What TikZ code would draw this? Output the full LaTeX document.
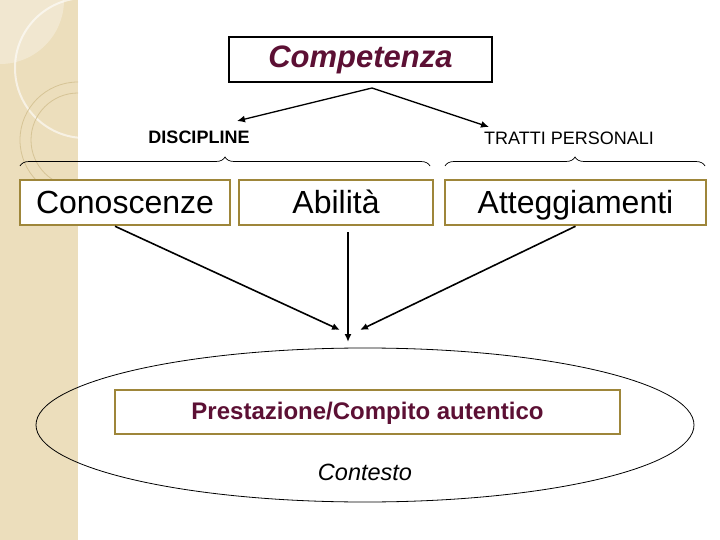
\documentclass[tikz,border=0pt]{standalone}
\usepackage{fontspec}
\setmainfont{Liberation Sans}
\usetikzlibrary{shapes.geometric,decorations.pathreplacing,arrows.meta}
\definecolor{strip}{RGB}{236,222,188}
\definecolor{stripline}{RGB}{214,196,150}
\definecolor{gold}{RGB}{158,134,58}
\definecolor{wine}{RGB}{92,16,52}

\begin{document}
\begin{tikzpicture}[
        x=1pt, y=-1pt,
        box/.style={draw=gold, line width=2.5pt, fill=white, inner sep=0pt,
                    minimum height=45pt, text height=26pt, text depth=4pt,
                    font=\fontsize{32}{32}\selectfont},
        arrow/.style={-{Latex[length=8pt,width=7pt]}, line width=1.6pt},
        brace/.style={decorate, decoration={brace, amplitude=9pt}, line width=0.7pt},
        label/.style={font=\fontsize{18}{18}\selectfont}
    ]
    \useasboundingbox (0,0) rectangle (720,540);

    % left background strip
    \fill[strip] (0,0) rectangle (78,540);
    \begin{scope}
        \clip (0,0) rectangle (78,540);
        \fill[white, opacity=0.3] (0,0) circle (64);
        \draw[white, opacity=0.6, line width=2pt] (85,68) circle (70);
        \draw[stripline, line width=0.8pt] (78,140) circle (58);
        \draw[stripline, line width=0.8pt] (78,140) circle (47);
    \end{scope}

    % top node
    \node[draw=black, line width=2pt, fill=white, minimum width=263pt, minimum height=45pt,
          text height=23pt, text depth=6pt,
          font=\fontsize{31}{31}\selectfont\bfseries\itshape, text=wine] (comp) at (360.5,59.5) {Competenza};

    % labels of the two groups
    \node[label, font=\fontsize{18}{18}\selectfont\bfseries] (disc) at (199,137) {DISCIPLINE};
    \node[label] (tratti) at (569,138) {TRATTI PERSONALI};

    \coordinate (apex) at (372,88);
    \coordinate (discend) at (237,121);
    \coordinate (trattiend) at (489,127);
    \draw[arrow, line width=1.3pt] (apex) -- (discend);
    \draw[arrow, line width=1.3pt] (apex) -- (trattiend);

    % braces
    \draw[brace] (20,166) -- (430,166);
    \draw[brace] (445,166) -- (705,166);

    % the three resources
    \node[box, minimum width=210pt] (con) at (125,202.5) {Conoscenze};
    \node[box, minimum width=194pt] (abi) at (336,202.5) {Abilità};
    \node[box, minimum width=261pt] (att) at (575.5,202.5) {Atteggiamenti};

    % context
    \node[draw, ellipse, line width=0.8pt, minimum width=658pt, minimum height=154pt,
          inner sep=0pt] (ctx) at (365,425) {};
    \node[box, minimum width=505pt, minimum height=44pt, text height=18pt, text depth=4pt,
          font=\fontsize{24}{24}\selectfont\bfseries, text=wine] (pres) at (367.5,412) {Prestazione/Compito autentico};
    \node[font=\fontsize{23.5}{23.5}\selectfont\itshape] (contesto) at (365,472) {Contesto};

    % arrows to the task
    \coordinate (abitop) at (348,232);
    \coordinate (tipleft) at (340,330);
    \coordinate (tipmid) at (348,342);
    \coordinate (tipright) at (360,330);
    \draw[arrow] ([xshift=-10pt]con.south) -- (tipleft);
    \draw[arrow] (abitop) -- (tipmid);
    \draw[arrow] (att.south) -- (tipright);

\end{tikzpicture}
\end{document}
